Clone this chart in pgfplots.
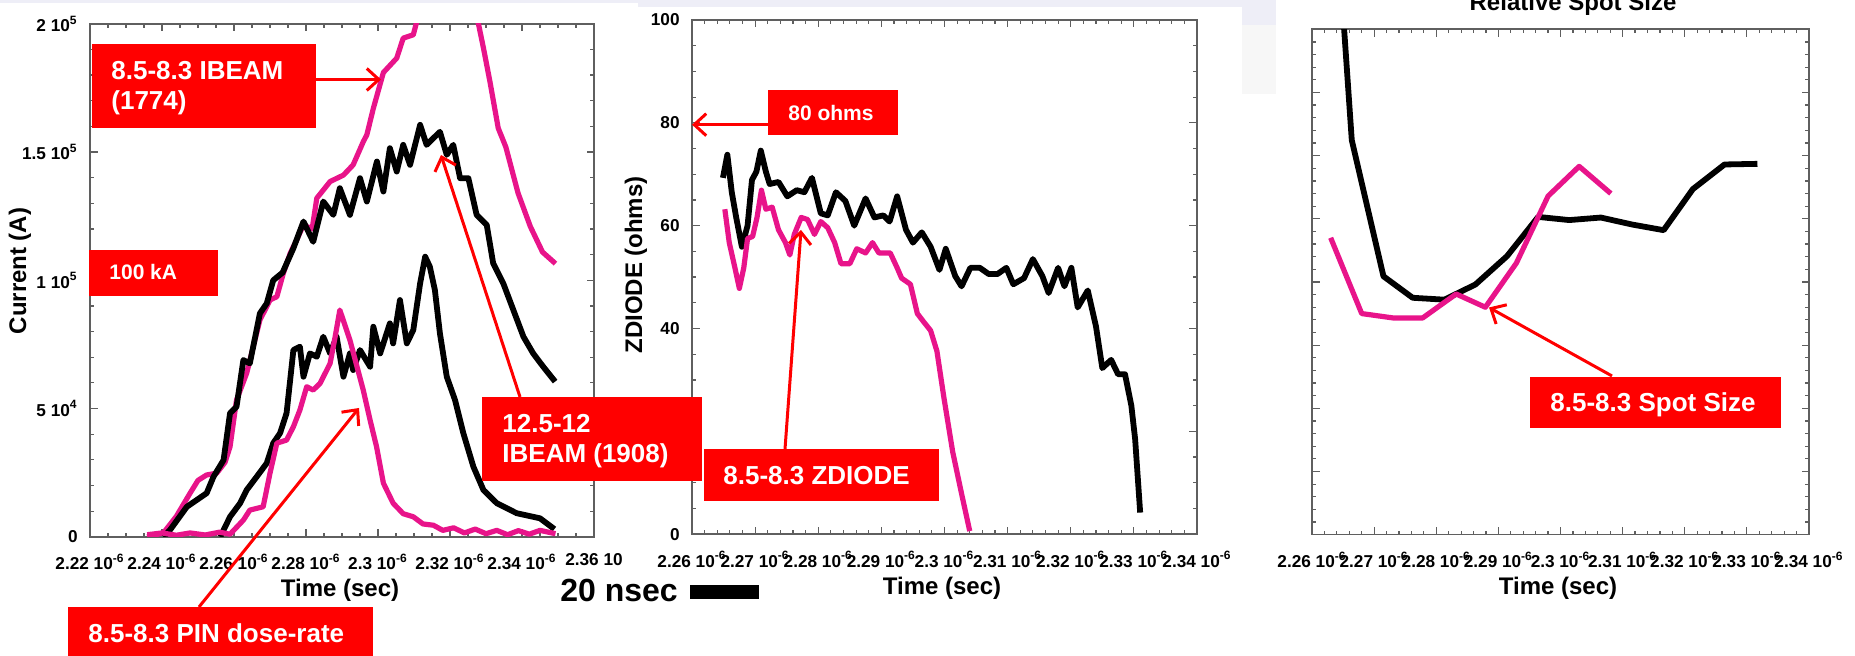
\documentclass[border=0pt]{standalone}
\usepackage{pgfplots}
\pgfplotsset{compat=1.18}
\usepackage{fontspec}
\setmainfont{Liberation Sans}
\usetikzlibrary{arrows.meta}
\definecolor{mag}{RGB}{232,20,138}
\definecolor{lav}{RGB}{238,238,247}
\definecolor{frm}{RGB}{95,95,95}
\newcommand{\bx}{\fontsize{13}{15}\selectfont\bfseries}
\newcommand{\sbx}{\fontsize{10.5}{12}\selectfont\bfseries}
\newcommand{\lab}{\fontsize{12}{14}\selectfont\bfseries}
\pgfplotsset{
  common/.style={scale only axis, anchor=north west,
    axis line style={frm, line width=0.8pt},
    every tick/.style={frm, line width=0.6pt},
    major tick length=3.75pt, minor tick length=2pt, tick align=inside,
    tick label style={font=\fontsize{8.6}{10}\selectfont\bfseries},
    xticklabel style={inner sep=0pt, yshift=-8.3pt},
    yticklabel style={inner sep=0pt, xshift=-6pt},
    scaled x ticks=false, scaled y ticks=false, clip=true},
  blk/.style={black, line width=2.9pt, line join=round, no markers},
  pnk/.style={mag, line width=2.6pt, line join=round, no markers},
}
\begin{document}
\begin{tikzpicture}
\useasboundingbox (0,0) rectangle (927.5pt,328pt);
\begin{scope}[shift={(0pt,328pt)},x=0.5pt,y=-0.5pt]
\fill[lav] (0,0) rectangle (1855,656);
\fill[white] (0,3) rectangle (638,656);
\fill[white] (638,7) rectangle (1242,656);
\fill[gray!6] (1242,25) rectangle (1276,94);
\fill[white] (1242,94) rectangle (1276,656);
\fill[white] (1276,0) rectangle (1855,656);
\end{scope}

% ---------------- Panel 1: Current ----------------
\begin{axis}[common, at={(45pt,316.1pt)}, width=252pt, height=256.5pt,
  xmin=2.22, xmax=2.36, ymin=0, ymax=200000,
  xtick={2.22,2.24,2.26,2.28,2.30,2.32,2.34,2.36},
  xticklabels={2.22 10\textsuperscript{-6},2.24 10\textsuperscript{-6},2.26 10\textsuperscript{-6},2.28 10\textsuperscript{-6},2.3 10\textsuperscript{-6},2.32 10\textsuperscript{-6},2.34 10\textsuperscript{-6},2.36 10},
  ytick={0,50000,100000,150000,200000},
  yticklabels={0,5 10\textsuperscript{4},1 10\textsuperscript{5},1.5 10\textsuperscript{5},2 10\textsuperscript{5}},
  minor x tick num=3, minor y tick num=4]
% 8.5-8.3 IBEAM (1774)
\addplot[pnk] coordinates {
(2.2359,0) (2.2404,1500) (2.2440,8000) (2.2478,17000) (2.2500,22000) (2.2524,24100)
(2.2552,24800) (2.2575,29000) (2.2589,35100) (2.2607,53300) (2.2635,63700) (2.2672,84500)
(2.2700,92300) (2.2719,93600) (2.2737,102700) (2.2756,110500) (2.2774,115700) (2.2793,121600)
(2.2817,120000) (2.2830,132000) (2.2867,138500) (2.2904,141000) (2.2931,145000) (2.2959,154000)
(2.2969,156700) (2.2987,167000) (2.3015,181000) (2.3052,186600) (2.3070,194400) (2.3098,195700)
(2.3107,200500) (2.3140,212000) (2.3200,222000) (2.3250,212000) (2.3279,200000) (2.3293,190500)
(2.3311,177400) (2.3334,159300) (2.3355,152000) (2.3389,134000) (2.3423,121000) (2.3457,111000)
(2.3493,106500)};
% 12.5-12 IBEAM (1908)
\addplot[blk] coordinates {
(2.2404,0) (2.2422,2600) (2.2469,11700) (2.2496,14300) (2.2524,17000) (2.2543,23400)
(2.2571,29900) (2.2589,48200) (2.2607,50700) (2.2626,68900) (2.2644,67600) (2.2672,87100)
(2.2691,91000) (2.2709,100000) (2.2735,103000) (2.2765,112500) (2.2793,122900) (2.2820,115000)
(2.2848,130700) (2.2876,125500) (2.2894,135900) (2.2922,125500) (2.2950,139800) (2.2969,130700)
(2.2997,146300) (2.3015,134600) (2.3033,151500) (2.3052,142400) (2.3070,152800) (2.3089,145000)
(2.3117,160600) (2.3135,152800) (2.3172,157900) (2.3191,148900) (2.3209,152800) (2.3228,139800)
(2.3251,139800) (2.3274,125500) (2.3302,121600) (2.3320,106600) (2.3348,98800) (2.3376,88400)
(2.3404,78000) (2.3431,71500) (2.3459,66300) (2.3492,60500)};
% 12.5-12 PIN
\addplot[blk] coordinates {
(2.2562,0) (2.2589,7800) (2.2617,13100) (2.2635,18200) (2.2663,23400) (2.2691,28700)
(2.2709,36500) (2.2728,40400) (2.2746,48200) (2.2756,61100) (2.2765,72800) (2.2783,74100)
(2.2793,62400) (2.2811,71500) (2.2830,70200) (2.2848,78000) (2.2867,71500) (2.2885,78000)
(2.2904,62400) (2.2922,71500) (2.2931,65000) (2.2950,72800) (2.2978,66300) (2.2987,81900)
(2.3006,71500) (2.3033,83200) (2.3042,75400) (2.3061,92300) (2.3080,75400) (2.3098,80600)
(2.3117,98800) (2.3131,109200) (2.3144,105300) (2.3158,96200) (2.3172,79300) (2.3191,62400)
(2.3214,53300) (2.3237,40400) (2.3265,27300) (2.3293,18200) (2.3330,13100) (2.3385,9200)
(2.3450,7200) (2.3490,3000)};
% 8.5-8.3 PIN dose-rate
\addplot[pnk] coordinates {
(2.2359,800) (2.2400,1500) (2.2440,600) (2.2478,1500) (2.2520,700) (2.2560,1800)
(2.2589,1000) (2.2626,6500) (2.2644,10400) (2.2681,11700) (2.2700,24800) (2.2719,36500)
(2.2746,37700) (2.2765,42900) (2.2783,49400) (2.2802,58500) (2.2820,57200) (2.2839,59800)
(2.2867,67600) (2.2881,78000) (2.2894,88400) (2.2922,76700) (2.2959,57200) (2.2978,45500)
(2.2996,35100) (2.3015,20900) (2.3042,13100) (2.3070,9000) (2.3098,7800) (2.3125,5000)
(2.3154,4500) (2.3180,2500) (2.3210,3500) (2.3240,1500) (2.3270,3000) (2.3300,1200)
(2.3330,2500) (2.3360,800) (2.3390,2400) (2.3420,1000) (2.3450,2500) (2.3493,1200)};
\end{axis}

% ---------------- Panel 2: ZDIODE ----------------
\begin{axis}[common, at={(346pt,318pt)}, width=252.5pt, height=257.1pt,
  xmin=2.26, xmax=2.34, ymin=0, ymax=100,
  xtick={2.26,2.27,2.28,2.29,2.30,2.31,2.32,2.33,2.34},
  xticklabels={2.26 10\textsuperscript{-6},2.27 10\textsuperscript{-6},2.28 10\textsuperscript{-6},2.29 10\textsuperscript{-6},2.3 10\textsuperscript{-6},2.31 10\textsuperscript{-6},2.32 10\textsuperscript{-6},2.33 10\textsuperscript{-6},2.34 10\textsuperscript{-6}},
  ytick={0,20,40,60,80,100}, yticklabels={0,20,40,60,80,100},
  minor x tick num=4, minor y tick num=3]
\addplot[blk] coordinates {
(2.2649,69.3) (2.2656,73.8) (2.2663,66.5) (2.2670,61.6) (2.2679,55.9) (2.2688,60.0)
(2.2695,68.9) (2.2702,70.5) (2.2709,74.6) (2.2717,70.5) (2.2723,68.1) (2.2737,68.5)
(2.2751,65.7) (2.2766,66.9) (2.2778,66.5) (2.2790,69.3) (2.2804,62.4) (2.2815,62.0)
(2.2828,66.5) (2.2843,64.8) (2.2857,60.0) (2.2875,65.3) (2.2889,61.6) (2.2903,62.0)
(2.2913,60.8) (2.2925,65.7) (2.2939,59.2) (2.2950,56.7) (2.2964,58.7) (2.2978,55.9)
(2.2992,51.4) (2.3002,55.5) (2.3017,50.2) (2.3027,48.2) (2.3041,51.8) (2.3056,51.8)
(2.3070,50.6) (2.3084,50.6) (2.3098,51.8) (2.3109,48.6) (2.3126,49.8) (2.3140,53.5)
(2.3155,50.2) (2.3165,46.9) (2.3180,51.8) (2.3190,48.2) (2.3201,51.8) (2.3211,44.1)
(2.3227,47.4) (2.3240,40.4) (2.3250,32.3) (2.3264,33.9) (2.3275,31.1) (2.3286,31.1)
(2.3296,25.0) (2.3302,18.5) (2.3310,4.2)};
\addplot[pnk] coordinates {
(2.2652,63.2) (2.2659,56.7) (2.2668,51.8) (2.2675,47.8) (2.2682,51.8) (2.2688,57.5)
(2.2696,57.9) (2.2703,61.6) (2.2710,66.9) (2.2717,63.2) (2.2727,63.6) (2.2737,59.2)
(2.2748,56.7) (2.2755,54.3) (2.2762,58.3) (2.2773,61.6) (2.2783,61.2) (2.2794,58.3)
(2.2804,60.8) (2.2815,59.6) (2.2826,56.7) (2.2836,52.6) (2.2850,52.6) (2.2861,55.5)
(2.2875,54.7) (2.2886,56.7) (2.2896,54.7) (2.2914,54.7) (2.2925,51.8) (2.2932,49.8)
(2.2946,48.6) (2.2957,42.9) (2.2967,41.3) (2.2978,39.6) (2.2988,35.6) (2.2999,26.6)
(2.3013,16.0) (2.3027,7.9) (2.3040,0.6)};
\end{axis}

% ---------------- Panel 3: Relative Spot Size ----------------
\begin{axis}[common, at={(656pt,313.35pt)}, width=248.5pt, height=252.7pt,
  xmin=2.26, xmax=2.34, ymin=0, ymax=8,
  xtick={2.26,2.27,2.28,2.29,2.30,2.31,2.32,2.33,2.34},
  xticklabels={2.26 10\textsuperscript{-6},2.27 10\textsuperscript{-6},2.28 10\textsuperscript{-6},2.29 10\textsuperscript{-6},2.3 10\textsuperscript{-6},2.31 10\textsuperscript{-6},2.32 10\textsuperscript{-6},2.33 10\textsuperscript{-6},2.34 10\textsuperscript{-6}},
  ytick={0,1,2,3,4,5,6,7,8}, yticklabels={},
  minor x tick num=4, minor y tick num=4]
\addplot[blk] coordinates {
(2.2651,8.1) (2.2664,6.245) (2.2715,4.09) (2.2762,3.75) (2.2813,3.72) (2.2863,3.96)
(2.2914,4.41) (2.2964,5.03) (2.3014,4.98) (2.3065,5.02) (2.3115,4.91) (2.3166,4.82)
(2.3213,5.47) (2.3264,5.86) (2.3317,5.87)};
\addplot[pnk] coordinates {
(2.2630,4.70) (2.2680,3.50) (2.2731,3.43) (2.2778,3.43) (2.2832,3.81) (2.2879,3.60)
(2.2929,4.30) (2.2980,5.36) (2.3030,5.83) (2.3081,5.40)};
\end{axis}

% ---------------- Annotations ----------------
\begin{scope}[shift={(0pt,328pt)},x=0.5pt,y=-0.5pt]
\tikzset{arr/.style={red, line width=1.5pt, -{Straight Barb[length=6pt,width=11pt]}},
  wt/.style={white, anchor=base west, inner sep=0pt}}
% axis labels
\node[rotate=90] at (20,271) {\lab Current (A)};
\node at (340,590) {\lab Time (sec)};
\node[rotate=90] at (636,265) {\lab ZDIODE (ohms)};
\node at (942,588) {\lab Time (sec)};
\node at (1558,588) {\lab Time (sec)};
\node[anchor=base, inner sep=0pt] at (1573,11) {\lab Relative Spot Size};
% 20 nsec scale
\node[anchor=base west, inner sep=0pt] at (560,602) {\fontsize{16}{18}\selectfont\bfseries 20 nsec};
\fill[black] (689.5,585) rectangle (758.6,599);
% boxes
\fill[red] (92,44) rectangle (316,128);
\node[wt] at (111,79.5) {\bx 8.5-8.3 IBEAM};
\node[wt] at (111,110) {\bx (1774)};
\draw[arr] (316,79.5) -- (381,79.5);
\fill[red] (89,250) rectangle (218,296);
\node[wt] at (109,280) {\sbx 100 kA};
\draw[arr] (520,397) -- (441,155);
\fill[red] (482,397) rectangle (702,481);
\node[wt] at (502,433) {\bx 12.5-12};
\node[wt] at (502,463) {\bx IBEAM (1908)};
\draw[arr] (199,607) -- (359,408);
\fill[red] (68,607) rectangle (373,670);
\node[wt] at (88,643) {\bx 8.5-8.3 PIN dose-rate};
\fill[red] (768,90) rectangle (898,135);
\node[wt] at (788,121) {\sbx 80 ohms};
\draw[arr] (768,124.7) -- (692,124.7);
\draw[arr] (785,449) -- (801,230);
\fill[red] (704,449) rectangle (939,501);
\node[wt] at (723,485) {\bx 8.5-8.3 ZDIODE};
\draw[arr] (1612,376) -- (1489,307.5);
\fill[red] (1530,377) rectangle (1781,428);
\node[wt] at (1550,412) {\bx 8.5-8.3 Spot Size};
\end{scope}
\end{tikzpicture}
\end{document}
